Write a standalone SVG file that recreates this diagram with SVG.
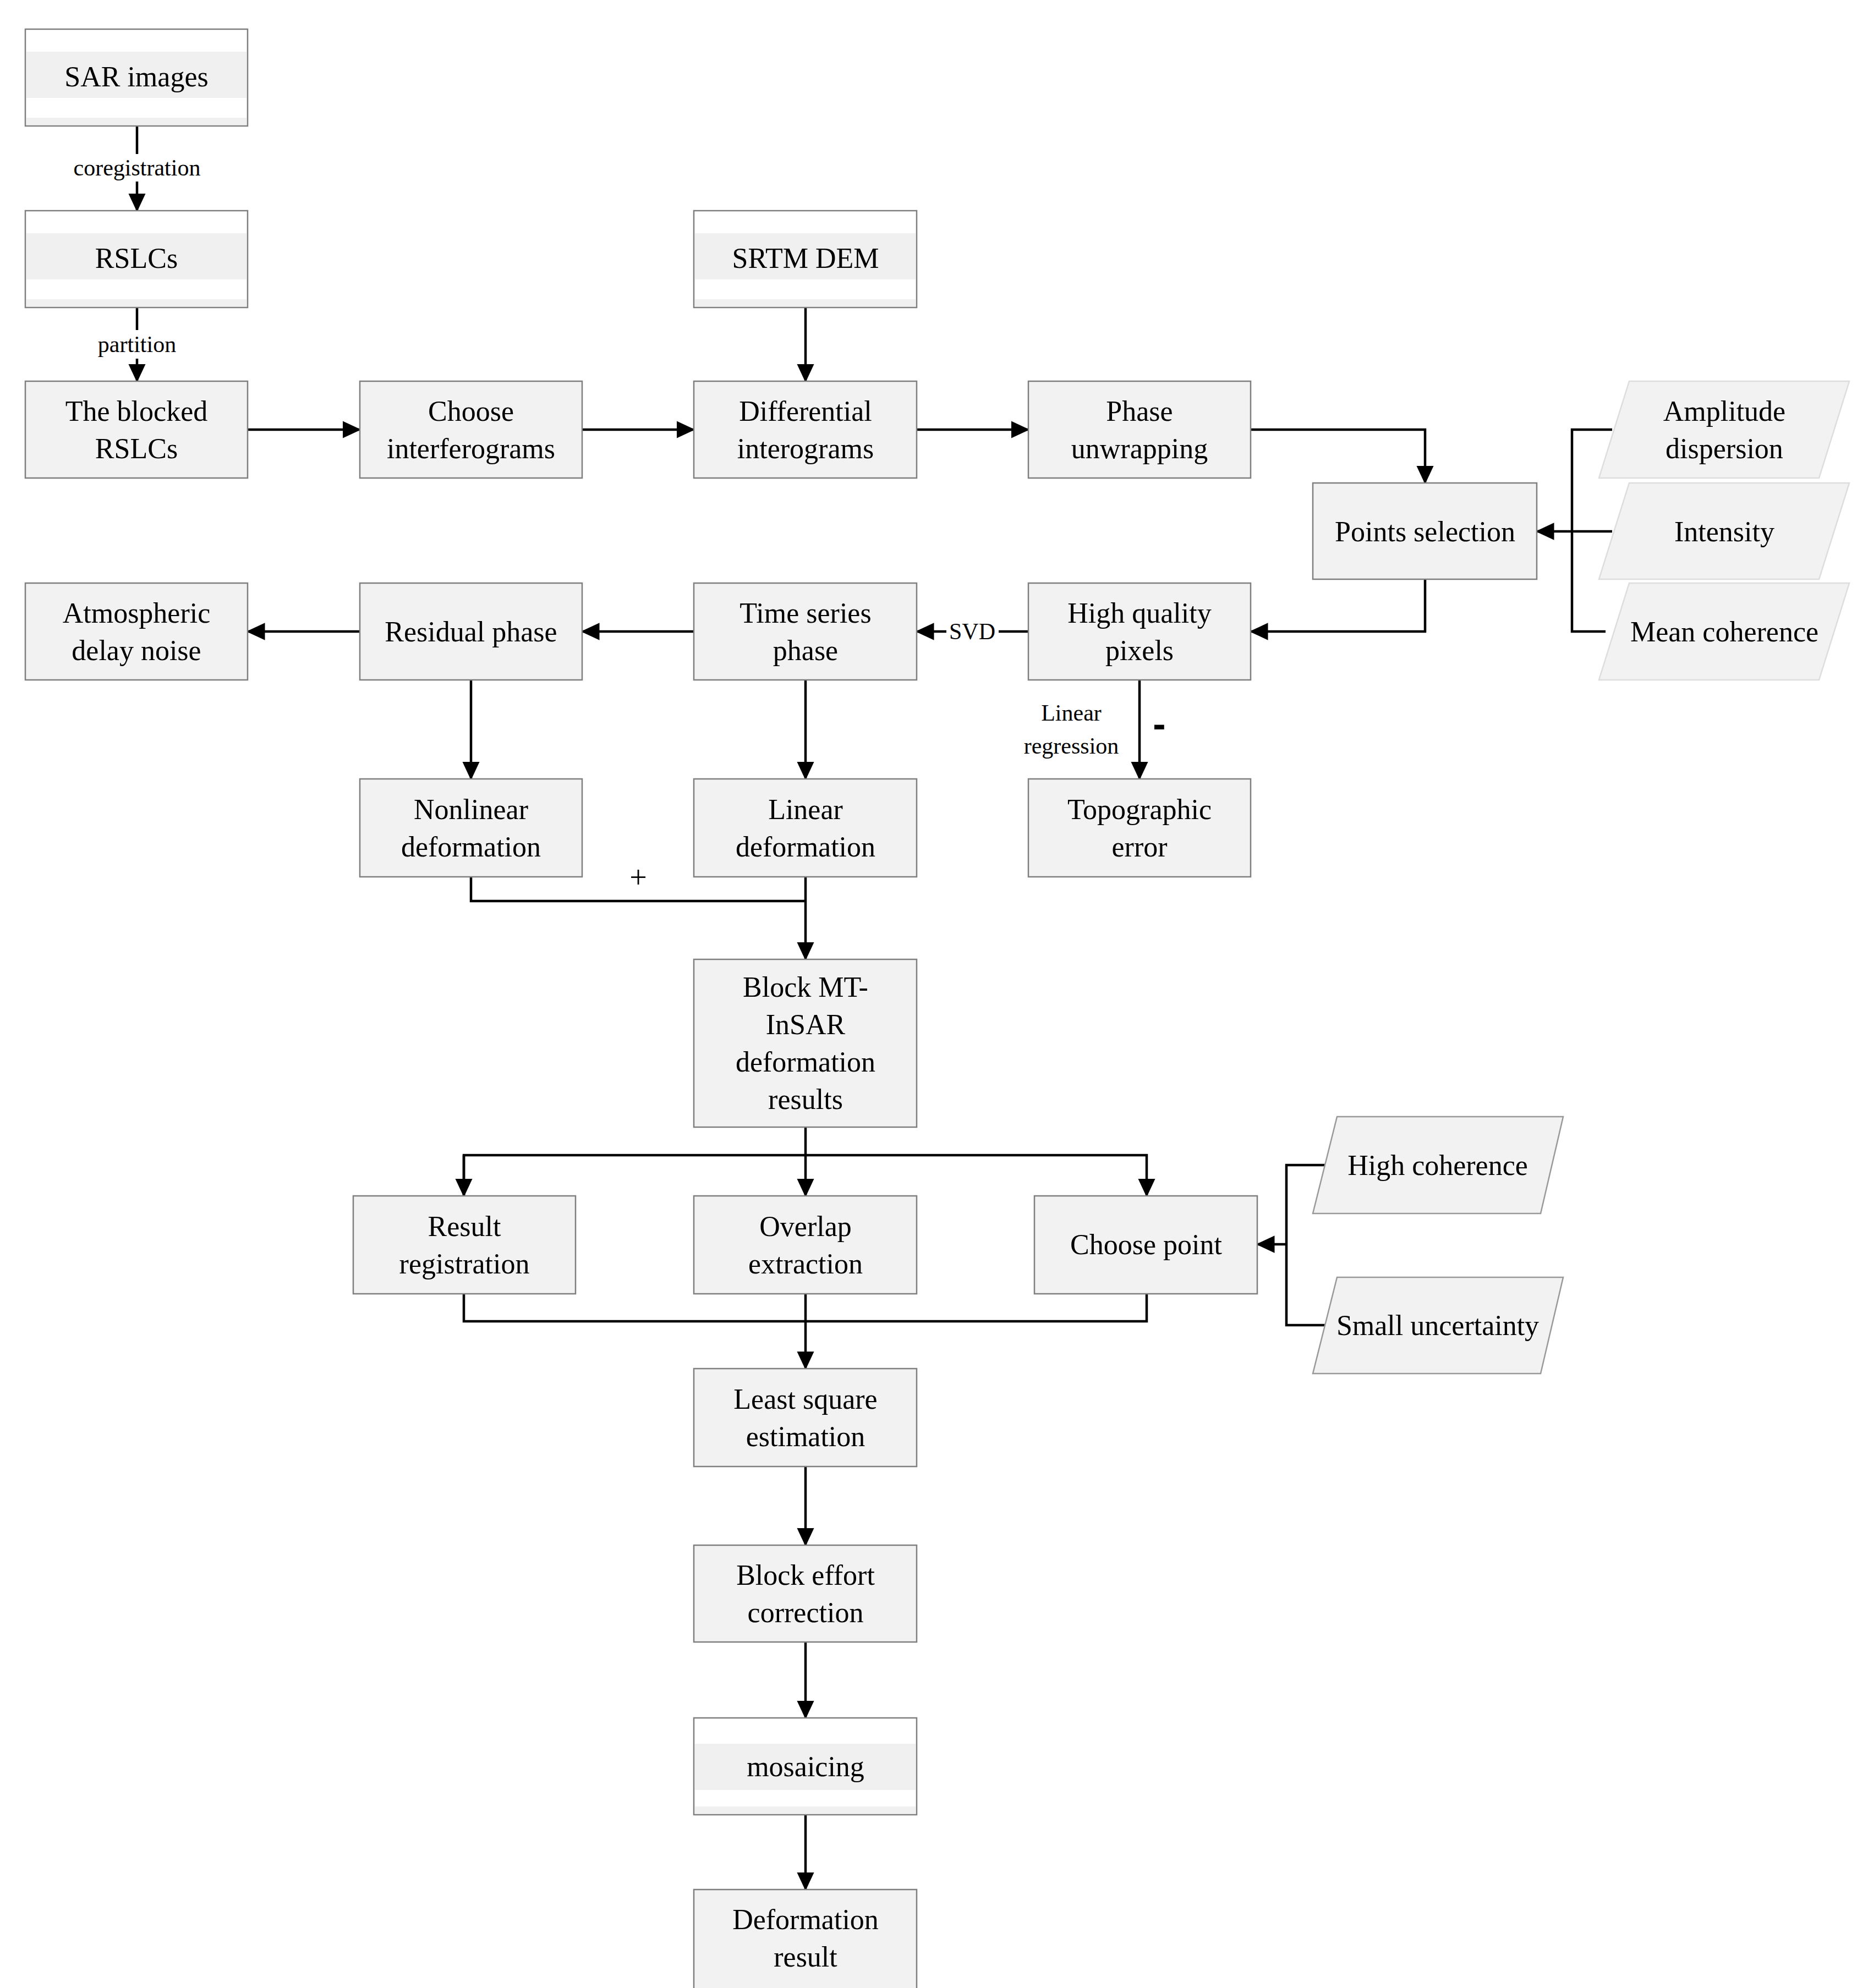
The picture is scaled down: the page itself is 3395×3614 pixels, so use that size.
<svg xmlns="http://www.w3.org/2000/svg" width="3395" height="3614" viewBox="0 0 3395 3614">
<style>
.b{fill:#f2f2f2;stroke:#7f7f7f;stroke-width:2.5}
.w{fill:#fff;stroke:#7f7f7f;stroke-width:2.5}
.band{fill:#f0f0f0}
.t{font-family:"Liberation Serif",serif;font-size:52px;fill:#000;text-anchor:middle;dominant-baseline:central}
.s{font-family:"Liberation Serif",serif;font-size:42px;fill:#000;text-anchor:middle;dominant-baseline:central}
.c{fill:none;stroke:#000;stroke-width:4.5}
</style>
<defs><marker id="a" markerWidth="8" markerHeight="8" refX="7" refY="4" orient="auto" markerUnits="strokeWidth"><path d="M0,0.5 L7.5,4 L0,7.5 z" fill="#000"/></marker></defs>
<rect width="3395" height="3614" fill="#fff"/>
<g id="connectors">
<path class="c" d="M249,229 V280 M249,330 V383" marker-end="url(#a)"/>
<path class="c" d="M249,559 V600 M249,652 V693" marker-end="url(#a)"/>
<path class="c" d="M450,781 H654" marker-end="url(#a)"/>
<path class="c" d="M1058,781 H1261" marker-end="url(#a)"/>
<path class="c" d="M1464,559 V693" marker-end="url(#a)"/>
<path class="c" d="M1666,781 H1869" marker-end="url(#a)"/>
<path class="c" d="M2273,781 H2590 V878" marker-end="url(#a)"/>
<path class="c" d="M2590,1053 V1148 H2273" marker-end="url(#a)"/>
<path class="c" d="M2930,781 H2857 V1148 H2918"/>
<path class="c" d="M2930,966 H2793" marker-end="url(#a)"/>
<path class="c" d="M1869,1148 H1815 M1720,1148 H1666" marker-end="url(#a)"/>
<path class="c" d="M1261,1148 H1058" marker-end="url(#a)"/>
<path class="c" d="M654,1148 H450" marker-end="url(#a)"/>
<path class="c" d="M2071,1236 V1416" marker-end="url(#a)"/>
<path class="c" d="M856,1236 V1416" marker-end="url(#a)"/>
<path class="c" d="M1464,1236 V1416" marker-end="url(#a)"/>
<path class="c" d="M856,1594 V1638 H1464"/>
<path class="c" d="M1464,1594 V1744" marker-end="url(#a)"/>
<path class="c" d="M1464,2049 V2100"/>
<path class="c" d="M843,2174 V2100 H2084 V2174" marker-end="url(#a)"/>
<path class="c" d="M843,2100 V2174" marker-end="url(#a)"/>
<path class="c" d="M1464,2100 V2174" marker-end="url(#a)"/>
<path class="c" d="M843,2352 V2402 H2084 V2352"/>
<path class="c" d="M1464,2352 V2488" marker-end="url(#a)"/>
<path class="c" d="M2415,2118 H2338 V2409 H2408"/>
<path class="c" d="M2338,2262 H2285" marker-end="url(#a)"/>
<path class="c" d="M1464,2666 V2809" marker-end="url(#a)"/>
<path class="c" d="M1464,2985 V3123" marker-end="url(#a)"/>
<path class="c" d="M1464,3299 V3435" marker-end="url(#a)"/>
<text class="s" x="249" y="305">coregistration</text>
<text class="s" x="249" y="626">partition</text>
<text class="s" x="1767" y="1148">SVD</text>
<text class="s" x="1947" y="1296">Linear</text>
<text class="s" x="1947" y="1356">regression</text>
<text x="2107" y="1340" style="font-family:'Liberation Sans',sans-serif;font-size:70px;font-weight:bold" text-anchor="middle">-</text>
<text x="1160" y="1614" style="font-family:'Liberation Serif',serif;font-size:56px" text-anchor="middle">+</text>
</g>
<g id="sar"><rect class="w" x="46" y="53" width="404" height="176"/><rect class="band" x="48" y="94" width="400" height="84"/><rect class="band" x="48" y="214" width="400" height="13"/><text class="t" x="248" y="139">SAR images</text></g>
<g id="rslcs"><rect class="w" x="46" y="383" width="404" height="176"/><rect class="band" x="48" y="424" width="400" height="84"/><rect class="band" x="48" y="544" width="400" height="13"/><text class="t" x="248" y="469">RSLCs</text></g>
<g id="srtm"><rect class="w" x="1261" y="383" width="405" height="176"/><rect class="band" x="1263" y="424" width="401" height="84"/><rect class="band" x="1263" y="544" width="401" height="13"/><text class="t" x="1464" y="469">SRTM DEM</text></g>
<g id="blocked"><rect class="b" x="46" y="693" width="404" height="176"/><text class="t" x="248" y="747">The blocked</text><text class="t" x="248" y="815">RSLCs</text></g>
<g id="choose"><rect class="b" x="654" y="693" width="404" height="176"/><text class="t" x="856" y="747">Choose</text><text class="t" x="856" y="815">interferograms</text></g>
<g id="diff"><rect class="b" x="1261" y="693" width="405" height="176"/><text class="t" x="1464" y="747">Differential</text><text class="t" x="1464" y="815">interograms</text></g>
<g id="unwrap"><rect class="b" x="1869" y="693" width="404" height="176"/><text class="t" x="2071" y="747">Phase</text><text class="t" x="2071" y="815">unwrapping</text></g>
<g id="points"><rect class="b" x="2386" y="878" width="407" height="175"/><text class="t" x="2590" y="966">Points selection</text></g>
<g id="amp"><polygon class="b" style="stroke:#ddd" points="2961,693 3361,693 3306,869 2906,869"/><text class="t" x="3134" y="747">Amplitude</text><text class="t" x="3134" y="815">dispersion</text></g>
<g id="intensity"><polygon class="b" style="stroke:#ddd" points="2961,878 3361,878 3306,1053 2906,1053"/><text class="t" x="3134" y="966">Intensity</text></g>
<g id="meancoh"><polygon class="b" style="stroke:#ddd" points="2961,1060 3361,1060 3306,1236 2906,1236"/><text class="t" x="3134" y="1148">Mean coherence</text></g>
<g id="atmo"><rect class="b" x="46" y="1060" width="404" height="176"/><text class="t" x="248" y="1114">Atmospheric</text><text class="t" x="248" y="1182">delay noise</text></g>
<g id="residual"><rect class="b" x="654" y="1060" width="404" height="176"/><text class="t" x="856" y="1148">Residual phase</text></g>
<g id="timeseries"><rect class="b" x="1261" y="1060" width="405" height="176"/><text class="t" x="1464" y="1114">Time series</text><text class="t" x="1464" y="1182">phase</text></g>
<g id="hq"><rect class="b" x="1869" y="1060" width="404" height="176"/><text class="t" x="2071" y="1114">High quality</text><text class="t" x="2071" y="1182">pixels</text></g>
<g id="nonlinear"><rect class="b" x="654" y="1416" width="404" height="178"/><text class="t" x="856" y="1471">Nonlinear</text><text class="t" x="856" y="1539">deformation</text></g>
<g id="linear"><rect class="b" x="1261" y="1416" width="405" height="178"/><text class="t" x="1464" y="1471">Linear</text><text class="t" x="1464" y="1539">deformation</text></g>
<g id="topo"><rect class="b" x="1869" y="1416" width="404" height="178"/><text class="t" x="2071" y="1471">Topographic</text><text class="t" x="2071" y="1539">error</text></g>
<g id="blockmt"><rect class="b" x="1261" y="1744" width="405" height="305"/><text class="t" x="1464" y="1794">Block MT-</text><text class="t" x="1464" y="1862">InSAR</text><text class="t" x="1464" y="1930">deformation</text><text class="t" x="1464" y="1998">results</text></g>
<g id="resreg"><rect class="b" x="642" y="2174" width="404" height="178"/><text class="t" x="844" y="2229">Result</text><text class="t" x="844" y="2297">registration</text></g>
<g id="overlap"><rect class="b" x="1261" y="2174" width="405" height="178"/><text class="t" x="1464" y="2229">Overlap</text><text class="t" x="1464" y="2297">extraction</text></g>
<g id="choosepoint"><rect class="b" x="1880" y="2174" width="405" height="178"/><text class="t" x="2083" y="2262">Choose point</text></g>
<g id="highcoh"><polygon class="b" style="stroke:#999" points="2430,2030 2841,2030 2800,2206 2386,2206"/><text class="t" x="2613" y="2118">High coherence</text></g>
<g id="smallunc"><polygon class="b" style="stroke:#999" points="2430,2322 2841,2322 2800,2497 2386,2497"/><text class="t" x="2613" y="2409">Small uncertainty</text></g>
<g id="lse"><rect class="b" x="1261" y="2488" width="405" height="178"/><text class="t" x="1464" y="2543">Least square</text><text class="t" x="1464" y="2611">estimation</text></g>
<g id="blockeff"><rect class="b" x="1261" y="2809" width="405" height="176"/><text class="t" x="1464" y="2863">Block effort</text><text class="t" x="1464" y="2931">correction</text></g>
<g id="mosaic"><rect class="w" x="1261" y="3123" width="405" height="176"/><rect class="band" x="1263" y="3170" width="401" height="84"/><rect class="band" x="1263" y="3284" width="401" height="13"/><text class="t" x="1464" y="3211">mosaicing</text></g>
<g id="defres"><rect class="b" x="1261" y="3435" width="405" height="190"/><text class="t" x="1464" y="3489">Deformation</text><text class="t" x="1464" y="3557">result</text></g>
</svg>
